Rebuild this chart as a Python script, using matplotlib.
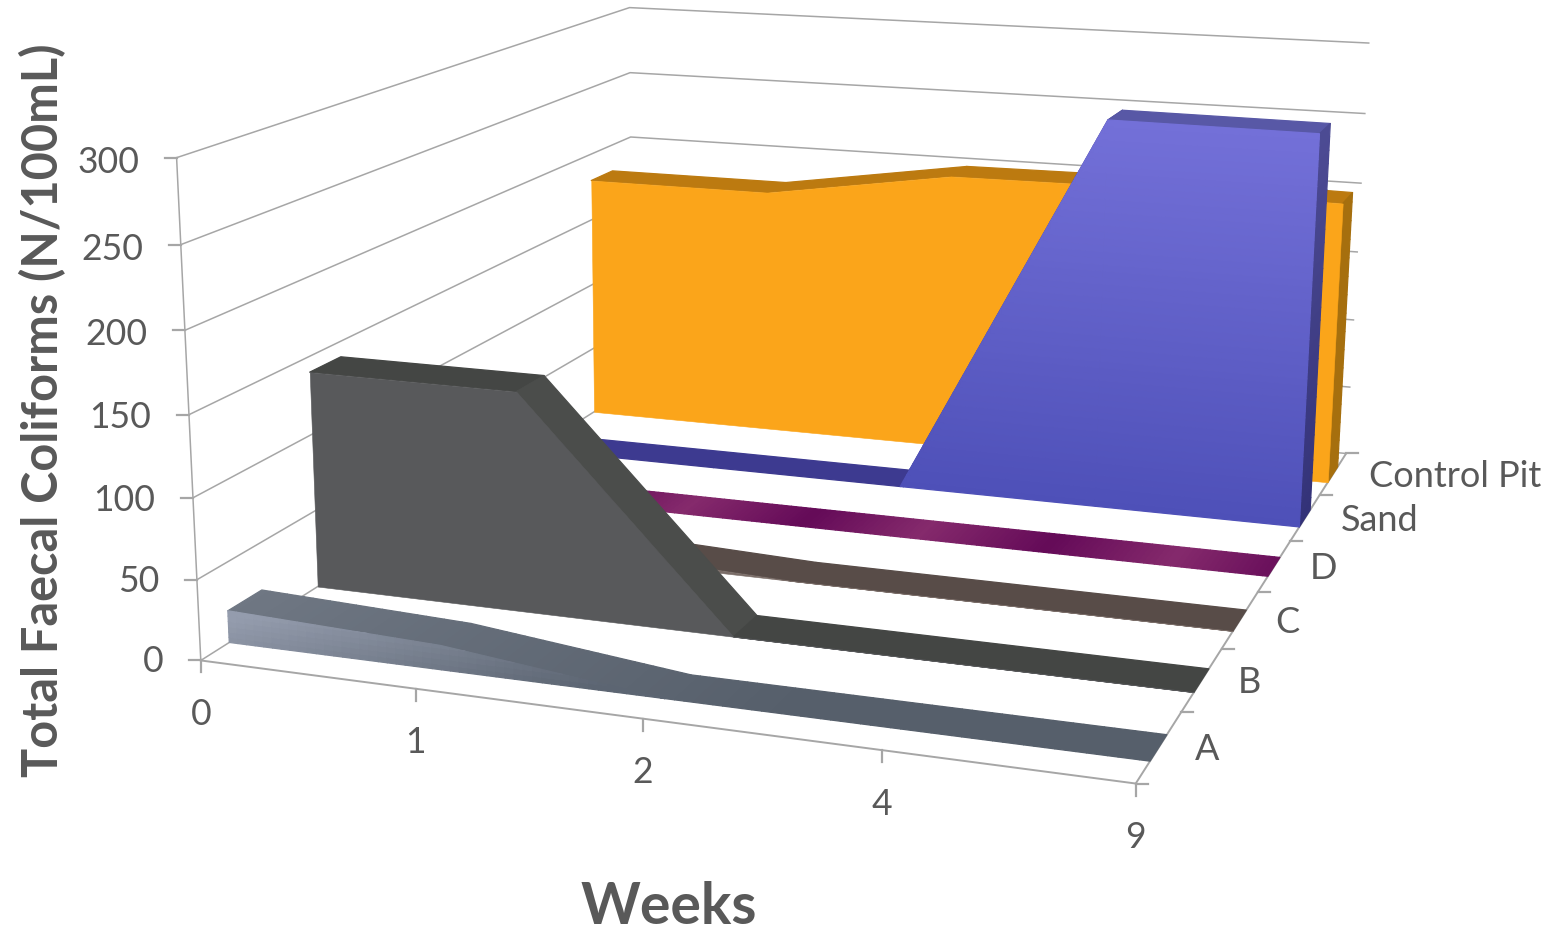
from __future__ import annotations

import matplotlib

matplotlib.use("Agg")

import matplotlib.pyplot as plt
import numpy as np
from matplotlib.colors import LinearSegmentedColormap
from matplotlib.lines import Line2D
from matplotlib.transforms import IdentityTransform
from mpl_toolkits.mplot3d.art3d import Poly3DCollection

WIDTH, HEIGHT = 1557, 934

weeks = ["0", "1", "2", "4", "9"]
treatments = ["A", "B", "C", "D", "Sand", "Control Pit"]
z_ticks = [0, 50, 100, 150, 200, 250, 300]

series_a = [20, 15, 0, 0, 0]
series_b = [140, 140, 0, 0, 0]
series_c = [7, 5, 0, 0, 0]
series_d = [0, 0, 0, 0, 0]
series_sand = [0, 0, 0, 268, 267]
series_control = [180, 180, 201, 202, 200]

# where known floor and wall positions sit on the canvas, used to solve the camera
box_corners = [
    (0, 0, 0), (0, 0, 300), (0, 6, 300), (0, 6, 0), (4, 6, 300), (4, 6, 0),
    (4, 0, 0), (1, 0, 0), (2, 0, 0), (3, 0, 0), (0, 0, 150), (0, 6, 200),
    (4, 6, 150), (4, 3, 0), (0, 0.3, 0), (4, 0.3, 0), (0, 1.3, 0), (4, 1.3, 0),
    (0, 5.3, 0), (4, 5.3, 0),
]
box_pixels = [
    (201, 660), (176, 158), (630, 7), (631, 392), (1368, 44), (1346, 452),
    (1136, 783), (416, 688), (643, 719), (882, 752), (189, 415), (631, 136),
    (1358, 252), (1258, 592), (229, 641), (1150, 762), (318, 586), (1193, 693),
    (595, 410), (1328, 481),
]

GRID = "#a6a6a6"
TEXT = "#595959"
DEPTH_FRONT, DEPTH_BACK = 0.30, 0.67


def solve_camera(points, pixels):
    rows = []
    for (x, y, z), (u, v) in zip(points, pixels):
        s = z / 100
        rows.append([x, y, s, 1, 0, 0, 0, 0, -u * x, -u * y, -u * s, -u])
        rows.append([0, 0, 0, 0, x, y, s, 1, -v * x, -v * y, -v * s, -v])
    _, _, vt = np.linalg.svd(np.array(rows, dtype=float))
    cam = vt[-1].reshape(3, 4)
    cam[:, 2] /= 100
    return cam


camera = solve_camera(box_corners, box_pixels)


def to_pixel(x, y, z):
    u, v, w = camera @ np.array([x, y, z, 1.0])
    return u / w, v / w


fig = plt.figure(figsize=(WIDTH / 100, HEIGHT / 100), dpi=100)
ax = fig.add_axes([0, 0, 1, 1], projection="3d", computed_zorder=False)
ax.set_axis_off()


def camera_proj():
    flip = np.array([[1, 0, 0], [0, -1, HEIGHT], [0, 0, 1]], dtype=float)
    to_axes = np.linalg.inv(ax.transData.get_affine().get_matrix())
    q = to_axes @ flip @ camera
    return np.array([q[0], q[1], [0, 1, 0, 0], q[2]])


ax.get_proj = camera_proj


def add_polys(verts, colours, zorder, lw=0.9):
    ax.add_collection3d(
        Poly3DCollection(
            verts,
            facecolors=colours,
            edgecolors=colours,
            linewidths=lw,
            zorder=zorder,
            clip_on=False,
        )
    )


def band_quads(values, lo, hi, nx):
    """Split the area under a profile into quads between two heights."""
    positions = np.arange(len(values))
    xs = list(np.linspace(0, len(values) - 1, (len(values) - 1) * nx + 1))
    for level in (lo, hi):
        for k in range(len(values) - 1):
            a, b = values[k], values[k + 1]
            if (a - level) * (b - level) < 0:
                xs.append(k + (level - a) / (b - a))
    xs = sorted(xs)
    tops = np.interp(xs, positions, values)
    quads = []
    for xa, xb, ta, tb in zip(xs[:-1], xs[1:], tops[:-1], tops[1:]):
        if max(ta, tb) <= lo + 1e-6 or xb - xa < 1e-9:
            continue
        quads.append((xa, xb, max(min(ta, hi), lo), max(min(tb, hi), lo)))
    return quads


def draw_area(values, index, front_colour, top_colour, side_colour, zorder,
              nz=1, nx=1, top_sub=1):
    y0 = index + DEPTH_FRONT
    y1 = index + DEPTH_BACK
    last = len(values) - 1
    positions = np.arange(len(values))

    # top surface, running back along each category step
    verts, colours = [], []
    steps = np.linspace(0, last, last * top_sub + 1)
    heights = np.interp(steps, positions, values)
    for xa, xb, za, zb in zip(steps[:-1], steps[1:], heights[:-1], heights[1:]):
        verts.append([(xa, y0, za), (xb, y0, zb), (xb, y1, zb), (xa, y1, za)])
        colours.append(top_colour((xa + xb) / 2))
    add_polys(verts, colours, zorder)

    # end cap on the right
    peak = values[-1]
    if peak > 0:
        verts, colours = [], []
        edges = np.linspace(0, peak, 31)
        for lo, hi in zip(edges[:-1], edges[1:]):
            verts.append([(last, y0, lo), (last, y1, lo), (last, y1, hi), (last, y0, hi)])
            colours.append(side_colour((lo + hi) / 2))
        add_polys(verts, colours, zorder + 1)

    # front face
    top = max(values)
    if top <= 0:
        return
    if nz == 1 and nx == 1:
        outline = [(x, y0, v) for x, v in zip(positions, values)]
        outline += [(last, y0, 0), (0, y0, 0)]
        add_polys([outline], [front_colour(0, 0)], zorder + 2, lw=0.4)
        return
    verts, colours = [], []
    edges = np.linspace(0, top, nz + 1)
    for lo, hi in zip(edges[:-1], edges[1:]):
        for xa, xb, za, zb in band_quads(values, lo, hi, nx):
            verts.append([(xa, y0, lo), (xb, y0, lo), (xb, y0, zb), (xa, y0, za)])
            colours.append(front_colour((xa + xb) / 2, (lo + hi) / 2))
    add_polys(verts, colours, zorder + 2)


def ramp(colour_list):
    cmap = LinearSegmentedColormap.from_list("ramp", colour_list)
    return lambda t: cmap(float(np.clip(t, 0, 1)))


def draw_line(points, lw=1.1):
    xs, ys, zs = zip(*points)
    ax.plot(xs, ys, zs, color=GRID, lw=lw, zorder=1, clip_on=False)


def pixel_tick(x, y, z, du, dv):
    u, v = to_pixel(x, y, z)
    fig.add_artist(
        Line2D(
            [u, u + du],
            [HEIGHT - v, HEIGHT - v - dv],
            color=GRID,
            lw=1.6,
            transform=IdentityTransform(),
        )
    )


def pixel_text(u, v, label, **kwargs):
    fig.text(
        u / WIDTH,
        1 - v / HEIGHT,
        label,
        family="Lato",
        color=TEXT,
        **kwargs,
    )


# walls and floor edges
for level in z_ticks:
    draw_line([(0, 0, level), (0, 6, level), (4, 6, level)])
draw_line([(0, 0, 0), (0, 0, 300)])
draw_line([(0, 0, 0), (4, 0, 0), (4, 6, 0)], lw=1.4)

# series are painted from the back of the floor to the front
sand_ramp = ramp(["#4e50b8", "#7370d8"])
sand_side = ramp(["#333278", "#4d4b94"])
purple_stops = [0.55, 1.13, 1.75, 2.33, 2.95, 3.55, 4.1]
purple_shade = [0.0, 1.0, 0.0, 1.0, 0.0, 1.0, 0.0]
purple_ramp = ramp(["#640a58", "#852a6c"])
slate_front = ramp(["#5c6572", "#949cad"])
slate_top = ramp(["#565f6b", "#6f7783"])

draw_area(
    series_control, 5,
    lambda x, z: "#fba51a",
    lambda x: "#bc7a10",
    lambda z: "#a66f0e",
    zorder=10,
)
draw_area(
    series_sand, 4,
    lambda x, z: sand_ramp(z / 268),
    lambda x: "#5858a6" if x > 3 else "#3d3a90",
    lambda z: sand_side(z / 268),
    zorder=20, nz=60,
)
draw_area(
    series_d, 3,
    lambda x, z: "#6b0a5e",
    lambda x: purple_ramp(np.interp(x, purple_stops, purple_shade)),
    lambda z: "#6b0a5e",
    zorder=30, top_sub=40,
)
draw_area(
    series_c, 2,
    lambda x, z: "#7a6d68",
    lambda x: "#584c48",
    lambda z: "#584c48",
    zorder=40,
)
draw_area(
    series_b, 1,
    lambda x, z: "#58595b",
    lambda x: "#4b4d4b" if 1 < x < 2 else "#444644",
    lambda z: "#444644",
    zorder=50,
)
draw_area(
    series_a, 0,
    lambda x, z: slate_front(0.95 - 0.5 * x + (z - 10) / 80),
    lambda x: slate_top(1 - x / 2.5),
    lambda z: "#565f6b",
    zorder=60, nz=6, nx=24, top_sub=24,
)

# ticks and labels sit at fixed canvas offsets from their axis positions
for level in z_ticks:
    pixel_tick(0, 0, level, -12, 0)
    u, v = to_pixel(0, 0, level)
    pixel_text(u - 37.5, v + 1.5 + 3.5 * level / 300, str(level), fontsize=25.6, ha="right", va="center")

for k, week in enumerate(weeks):
    pixel_tick(k, 0, 0, 0, 12)
    u, v = to_pixel(k, 0, 0)
    pixel_text(u, v + 54, week, fontsize=25.6, ha="center", va="center")

for k in range(len(treatments) + 1):
    pixel_tick(4, k, 0, 12, 0)

for k, name in enumerate(treatments):
    u, v = to_pixel(4, k + 0.5, 0)
    pixel_text(u + 35.5, v + 3, name, fontsize=26, ha="left", va="center")

pixel_text(669, 907, "Weeks", fontsize=41, fontweight="bold", ha="center", va="center")
pixel_text(
    43, 410, "Total Faecal Coliforms (N/100mL)",
    fontsize=35, fontweight="bold", rotation=90, ha="center", va="center",
)

fig.savefig("out.png", dpi=100)
